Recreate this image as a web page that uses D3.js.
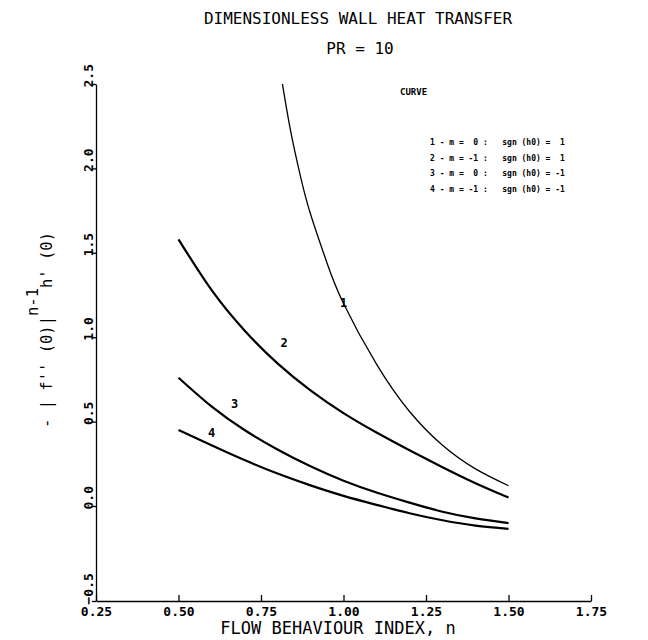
<!DOCTYPE html>
<html>
<head>
<meta charset="utf-8">
<script src="https://cdn.jsdelivr.net/npm/d3@7"></script>
<style>
  body { margin: 0; background: #fff; }
  text { font-family: "DejaVu Sans Mono", "Liberation Mono", monospace; fill: #000; }
</style>
</head>
<body>
<div id="chart"></div>
<script>
const W = 648, H = 640;
const margin = { top: 84, right: 57, bottom: 39, left: 96 };
const width = W - margin.left - margin.right;
const height = H - margin.top - margin.bottom;

// data
const nValues = [0.5, 0.6, 0.7, 0.8, 0.9, 1.0, 1.1, 1.2, 1.3, 1.4, 1.5];
const curve1N = [0.815, 0.84, 0.87, 0.9, 0.95, 1.0, 1.1, 1.2, 1.3, 1.4, 1.5];
const curve1 = [2.5, 2.22, 1.95, 1.73, 1.44, 1.2, 0.84, 0.56, 0.36, 0.22, 0.12];
const curve2 = [1.58, 1.28, 1.04, 0.845, 0.685, 0.55, 0.435, 0.33, 0.23, 0.135, 0.05];
const curve3 = [0.76, 0.59, 0.45, 0.335, 0.235, 0.15, 0.08, 0.02, -0.03, -0.065, -0.09];
const curve4 = [0.45, 0.36, 0.272, 0.192, 0.122, 0.06, 0.007, -0.038, -0.075, -0.103, -0.12];
const xTicks = [0.25, 0.5, 0.75, 1.0, 1.25, 1.5, 1.75];
const yTicks = [-0.5, 0.0, 0.5, 1.0, 1.5, 2.0, 2.5];
const curveLabels = [
  { text: "1", n: 1.0, v: 1.18 },
  { text: "2", n: 0.82, v: 0.94 },
  { text: "3", n: 0.67, v: 0.58 },
  { text: "4", n: 0.6, v: 0.41 }
];
const legendRows = [
  "1 - m =  0 :   sgn (h0) =  1",
  "2 - m = -1 :   sgn (h0) =  1",
  "3 - m =  0 :   sgn (h0) = -1",
  "4 - m = -1 :   sgn (h0) = -1"
];

const svg = d3.select("#chart").append("svg")
  .attr("width", W)
  .attr("height", H);

const g = svg.append("g")
  .attr("transform", "translate(" + margin.left + "," + margin.top + ")");

const x = d3.scaleLinear().domain([0.25, 1.75]).range([0, width]);
// the plotted axis has a longer step below zero
const y = d3.scaleLinear().domain([-0.5, 0, 2.5]).range([height, height - 95, 0]);

// X axis
const xAxis = g.append("g")
  .attr("transform", "translate(0," + height + ")")
  .call(d3.axisBottom(x).tickValues(xTicks).tickSize(-6).tickSizeOuter(0)
    .tickFormat(d3.format(".2f")));
xAxis.select(".domain").attr("stroke", "#000").attr("stroke-width", 1.3);
xAxis.selectAll(".tick line").attr("stroke", "#000").attr("stroke-width", 1.3);
xAxis.selectAll(".tick text")
  .attr("y", 6)
  .attr("font-size", 13)
  .attr("font-weight", "bold")
  .attr("font-family", "DejaVu Sans Mono");

// Y axis
const yAxis = g.append("g")
  .call(d3.axisLeft(y).tickValues(yTicks).tickSize(4).tickSizeOuter(0)
    .tickFormat(d3.format(".1f")));
yAxis.select(".domain").attr("stroke", "#000").attr("stroke-width", 1.3);
yAxis.selectAll(".tick line").attr("stroke", "#000").attr("stroke-width", 1.3);
yAxis.selectAll(".tick text")
  .attr("x", 0).attr("y", 0).attr("dy", 0)
  .attr("transform", "translate(-3,3) rotate(-90)")
  .attr("text-anchor", "start")
  .attr("font-size", 13)
  .attr("font-weight", "bold")
  .attr("font-family", "DejaVu Sans Mono");

// curves
const line = d3.line()
  .x(d => x(d[0]))
  .y(d => y(d[1]))
  .curve(d3.curveNatural);

const series = [
  { n: curve1N, v: curve1, w: 1.3 },
  { n: nValues, v: curve2, w: 2.2 },
  { n: nValues, v: curve3, w: 2.2 },
  { n: nValues, v: curve4, w: 2.2 }
];
series.forEach(s => {
  g.append("path")
    .datum(s.n.map((n, i) => [n, s.v[i]]))
    .attr("fill", "none")
    .attr("stroke", "#000")
    .attr("stroke-width", s.w)
    .attr("d", line);
});

g.selectAll(".clabel")
  .data(curveLabels)
  .enter()
  .append("text")
  .attr("class", "clabel")
  .attr("x", d => x(d.n))
  .attr("y", d => y(d.v))
  .attr("font-size", 12)
  .attr("font-weight", "bold")
  .attr("text-anchor", "middle")
  .text(d => d.text);

// legend
svg.append("text")
  .attr("x", 400).attr("y", 95)
  .attr("font-size", 9)
  .attr("font-weight", "bold")
  .attr("font-family", "Liberation Sans Narrow, Liberation Sans")
  .text("CURVE");

svg.selectAll(".lrow")
  .data(legendRows)
  .enter()
  .append("text")
  .attr("class", "lrow")
  .attr("x", 430)
  .attr("y", (d, i) => 145 + i * 15.5)
  .attr("font-size", 8)
  .attr("font-weight", "bold")
  .style("white-space", "pre")
  .text(d => d);

// titles
svg.append("text")
  .attr("x", 358).attr("y", 24)
  .attr("text-anchor", "middle")
  .attr("font-size", 16)
  .text("DIMENSIONLESS WALL HEAT TRANSFER");

svg.append("text")
  .attr("x", 360).attr("y", 54)
  .attr("text-anchor", "middle")
  .attr("font-size", 16)
  .text("PR = 10");

svg.append("text")
  .attr("x", 338).attr("y", 634)
  .attr("text-anchor", "middle")
  .attr("font-size", 17)
  .text("FLOW BEHAVIOUR INDEX, n");

// y label with superscript
const yl = svg.append("text")
  .attr("transform", "translate(52,330) rotate(-90)")
  .attr("text-anchor", "middle")
  .attr("font-size", 15.5)
  .style("white-space", "pre");
yl.append("tspan").text("- | f'' (0)|");
yl.append("tspan").attr("dy", -14).text("n-1");
yl.append("tspan").attr("dy", 14).text("h' (0)");
</script>
</body>
</html>
